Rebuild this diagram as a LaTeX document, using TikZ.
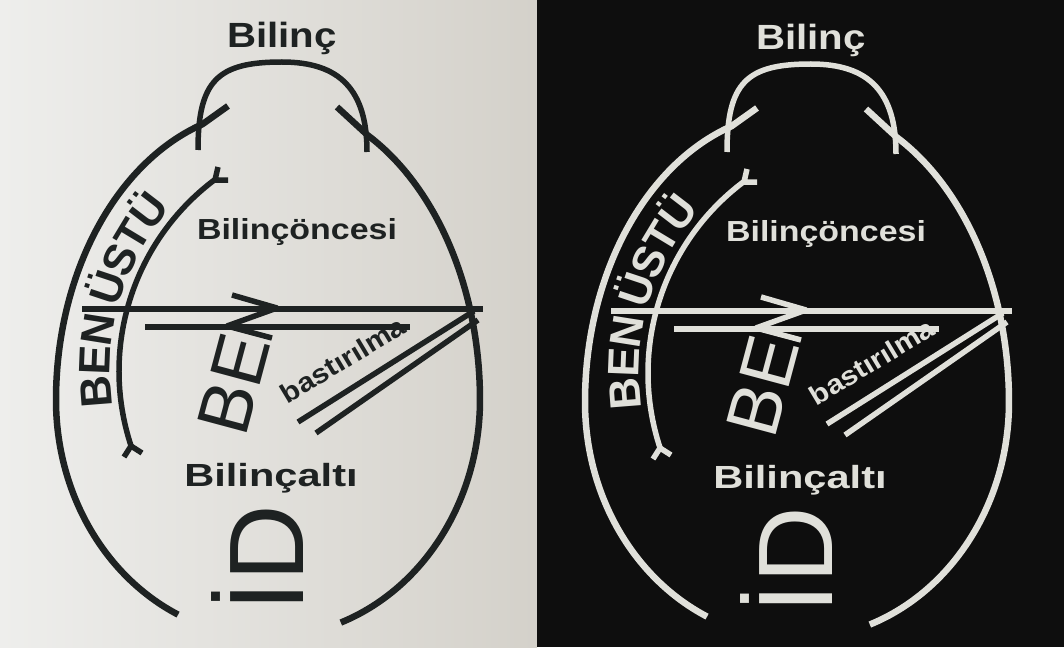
\documentclass[tikz,border=0pt]{standalone}
\usepackage{fontspec}
\setmainfont{Liberation Sans}
\usepackage{graphicx}
\definecolor{pagelight}{RGB}{238,238,236}
\definecolor{pagedark}{RGB}{212,209,202}
\definecolor{leftink}{RGB}{30,34,34}
\definecolor{rightink}{RGB}{224,224,218}
\definecolor{board}{RGB}{14,14,14}
\colorlet{ink}{leftink}
\tikzset{
  stroke/.style={draw=ink, line width=5.5pt, line cap=butt, line join=round},
  eggline/.style={draw=ink, line width=6.5pt, line cap=butt, line join=round},
  lbl/.style={text=ink, inner sep=0pt},
}
\newcommand\wide[2]{\scalebox{#1}[1]{#2}}
\newcommand\freudpic{%
  % egg, left half
  \draw[eggline] (268,400) ++(115.1:212 and 237)
     arc[start angle=115.1, end angle=180, x radius=212, y radius=237]
     arc[start angle=180, end angle=252, x radius=212, y radius=290]
     -- (228,106);
  % egg, right half
  \draw[eggline] (337,107) -- (367.5,135.1)
     arc[start angle=298, end angle=360, x radius=212, y radius=300]
     arc[start angle=0, end angle=69.9, x radius=212, y radius=237];
  % arch of Bilinc
  \draw[stroke] (198,150) .. controls (198,80) and (218,62) .. (282,62)
     .. controls (340,62) and (367,90) .. (367,152);
  % inner arc (Benustu)
  \draw[stroke] (358,371) ++(161.8:239) arc[start angle=161.8, end angle=233.2, radius=239];
  \draw[stroke] (124,457) -- (131,446) -- (142,453);
  \draw[stroke] (218,167) -- (215,180) -- (228,180);
  % horizontal lines
  \draw[stroke] (82,309) -- (483,309);
  \draw[stroke] (145,327) -- (410,327);
  \draw[stroke] (232,295) -- (277,308) -- (227,326) -- (272,338);
  % bastirilma double line
  \draw[stroke] (298,422) -- (474,311);
  \draw[stroke] (316,433) -- (478,320);
  % labels
  \node[lbl, anchor=base, font=\fontsize{35}{40}\selectfont\bfseries] (bilinc) at (282,48) {\wide{1.15}{Bilinç}};
  \node[lbl, anchor=base, font=\fontsize{29}{34}\selectfont\bfseries] (oncesi) at (297,239) {\wide{1.17}{Bilinçöncesi}};
  \node[lbl, anchor=base, font=\fontsize{32}{36}\selectfont\bfseries] (alti) at (271,486) {\wide{1.3}{Bilinçaltı}};
  \node[lbl, anchor=base, rotate=31, font=\fontsize{27}{30}\selectfont\bfseries] (bast) at (348,368) {\wide{1.1}{bastırılma}};
  \node[lbl, rotate=75, font=\fontsize{74}{76}\selectfont] (be) at (234,384) {BE};
  \node[lbl, anchor=base, rotate=90, font=\fontsize{106}{110}\selectfont] (id) at (303,558) {İD};
  \foreach \ang/\ch [count=\i] in {175.5/B,182.3/E,189.0/N,198.4/Ü,205.0/S,211.1/T,217.5/Ü}{
    \pgfmathsetmacro\px{358+248*cos(\ang)}
    \pgfmathsetmacro\py{371+248*sin(\ang)}
    \node[lbl, anchor=base, rotate={270-\ang}, font=\fontsize{44}{46}\selectfont\bfseries] (ben\i) at (\px,\py) {\ch};
  }
}
\begin{document}
\begin{tikzpicture}[x=1pt, y=-1pt]
  \useasboundingbox (0,0) rectangle (1064,647);
  \shade[left color=pagelight, right color=pagedark] (0,0) rectangle (537,647);
  \fill[board] (537,0) rectangle (1064,647);
  \begin{scope}[name prefix=L-]
    \colorlet{ink}{leftink}
    \freudpic
  \end{scope}
  \begin{scope}[shift={(529,2)}, name prefix=R-]
    \colorlet{ink}{rightink}
    \freudpic
  \end{scope}
\end{tikzpicture}
\end{document}
